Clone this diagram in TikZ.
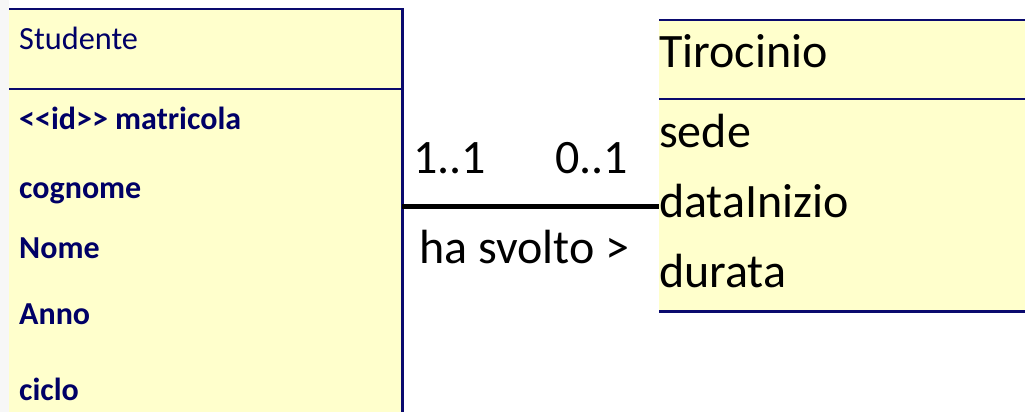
\documentclass[tikz,border=0pt]{standalone}
\usepackage{fontspec}
\setmainfont{Carlito}
\definecolor{navy}{HTML}{0A0A6E}
\definecolor{boxfill}{HTML}{FFFFCC}
\definecolor{txtnavy}{HTML}{000066}
\tikzset{
  boxline/.style={draw=navy, line width=2.2pt},
  studtxt/.style={anchor=base west, inner sep=0pt, text=txtnavy, font=\fontsize{32.3}{36}\selectfont},
  studattr/.style={studtxt, font=\fontsize{32}{36}\selectfont\bfseries},
  tirtxt/.style={anchor=base west, inner sep=0pt, text=black, font=\fontsize{48}{52}\selectfont},
  lbl/.style={anchor=base west, inner sep=0pt, text=black, font=\fontsize{48}{52}\selectfont},
  conn/.style={draw=black, line width=5pt},
}
\begin{document}
\begin{tikzpicture}[x=1pt, y=-1pt]
\useasboundingbox (0,0) rectangle (1025,412);
\clip (0,0) rectangle (1025,412);
\fill[white] (0,0) rectangle (1025,412);
\fill[gray!6] (0,0) rectangle (9,412);
% Studente class
\node[fill=boxfill, draw=none, anchor=north west, minimum width=393pt, minimum height=420pt, inner sep=0pt] (stud) at (9,9) {};
\draw[boxline] (stud.north west) -- (stud.north east) -- (stud.south east);
\coordinate (sdiv) at (9,89);
\draw[boxline] (sdiv) -- (sdiv -| stud.east);
\node[studtxt] (stitle) at (19,50) {Studente};
\node[studattr] (s1) at (19,129) {<{}<id>{}> matricola};
\node[studattr] (s2) at (19,198) {cognome};
\node[studattr] (s3) at (19,258) {Nome};
\node[studattr] (s4) at (19,324) {Anno};
\node[studattr] (s5) at (19,400) {ciclo};
% Tirocinio class
\node[fill=boxfill, draw=none, anchor=north west, minimum width=380pt, minimum height=291pt, inner sep=0pt] (tir) at (659,20) {};
\draw[boxline] (tir.north west) -- (tir.north east);
\draw[boxline] (tir.south west) -- (tir.south east);
\coordinate (tdiv) at (659,99);
\draw[boxline] (tdiv) -- (tdiv -| tir.east);
\node[tirtxt] (ttitle) at (659,67) {Tirocinio};
\node[tirtxt] (t1) at (659,147) {sede};
\node[tirtxt] (t2) at (659,217) {dataInizio};
\node[tirtxt] (t3) at (659,287) {durata};
% association
\coordinate (ca) at (402,206);
\coordinate (cb) at (659,206);
\draw[conn] (stud.east |- ca) -- (tir.west |- cb);
\node[lbl] (m1) at (413,173) {1..1};
\node[lbl] (m2) at (555,173) {0..1};
\node[lbl] (rel) at (419,263) {ha svolto >};
\end{tikzpicture}
\end{document}
